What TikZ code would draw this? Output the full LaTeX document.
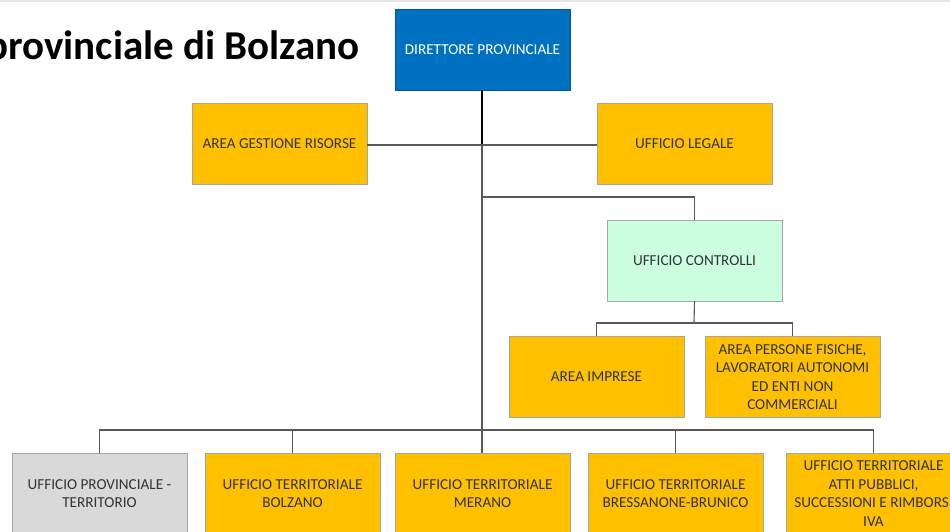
\documentclass[tikz,border=0pt]{standalone}
\usepackage{fontspec}
\setmainfont{Carlito}
\begin{document}
\begin{tikzpicture}[x=1pt,y=-1pt,
  box/.style={draw=black!35, minimum width=175pt, minimum height=81pt, inner sep=0pt,
    align=center, font=\fontsize{15.2}{18.5}\selectfont, text=black!80},
  orange/.style={box, fill=orgcol},
  conn/.style={draw=black!65, line width=1.1pt},
]
\definecolor{orgcol}{HTML}{FFC000}
\definecolor{bluecol}{HTML}{0070C0}
\definecolor{greencol}{HTML}{CCFFE0}
\definecolor{graycol}{HTML}{D9D9D9}
\useasboundingbox (0,0) rectangle (950,531);
\clip (0,0) rectangle (950,531);
\fill[white] (0,0) rectangle (950,531);
\draw[black!10, line width=2pt] (0,1) -- (950,1);

\node[anchor=base east, font=\bfseries\fontsize{41}{44}\selectfont, inner sep=0pt] (title) at (360,59) {provinciale di Bolzano};

\node[box, fill=bluecol, text=white, draw=bluecol!80!black] (dir) at (482.5,49.5) {DIRETTORE PROVINCIALE};
\node[orange] (agr) at (279.5,143.5) {AREA GESTIONE RISORSE};
\node[orange] (ul) at (684.5,143.5) {UFFICIO LEGALE};
\node[box, fill=greencol] (uc) at (694.5,260.5) {UFFICIO CONTROLLI};
\node[orange] (ai) at (596.5,377) {AREA IMPRESE};
\node[orange] (apf) at (792.5,377) {AREA PERSONE FISICHE,\\LAVORATORI AUTONOMI\\ED ENTI NON\\COMMERCIALI};

\node[box, fill=graycol] (b1) at (99.5,493.5) {UFFICIO PROVINCIALE -\\TERRITORIO};
\node[orange] (b2) at (292.5,493.5) {UFFICIO TERRITORIALE\\BOLZANO};
\node[orange] (b3) at (482.5,493.5) {UFFICIO TERRITORIALE\\MERANO};
\node[orange] (b4) at (675.5,493.5) {UFFICIO TERRITORIALE\\BRESSANONE-BRUNICO};
\node[orange] (b5) at (873.5,493.5) {UFFICIO TERRITORIALE\\ATTI PUBBLICI,\\SUCCESSIONI E RIMBORSI\\IVA};

\coordinate (j1) at (482,145);
\coordinate (bus) at (482,430);
\coordinate (cj) at (482,197);
\coordinate (cbus) at (694,323);

\draw[black, line width=1.7pt] (dir.south -| j1) -- (j1);
\draw[conn] (agr.east |- j1) -- (ul.west |- j1);
\draw[conn] (j1) -- (b3.north -| j1);
\draw[conn] (cj) -| (uc.north);
\draw[conn] (uc.south) -- (cbus);
\draw[conn] (ai.north) |- (cbus) -| (apf.north);
\draw[conn] (b1.north) |- (bus) -| (b5.north);
\draw[conn] (b2.north) -- (b2.north |- bus);
\draw[conn] (b4.north) -- (b4.north |- bus);
\end{tikzpicture}
\end{document}
